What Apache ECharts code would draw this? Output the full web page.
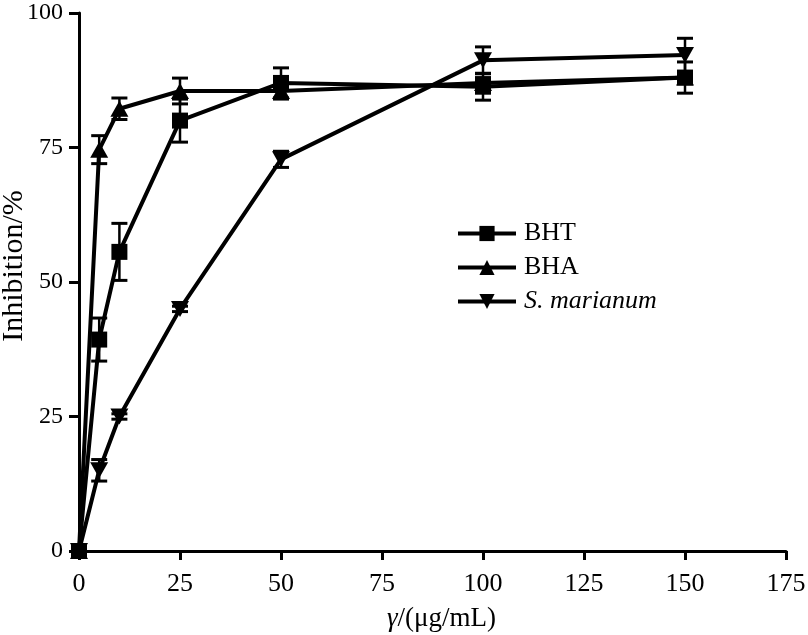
<!DOCTYPE html>
<html>
<head>
<meta charset="utf-8">
<script src="https://cdn.jsdelivr.net/npm/echarts@6/dist/echarts.min.js"></script>
<style>html,body{margin:0;padding:0;background:#fff;}#c{width:808px;height:635px;}</style>
</head>
<body>
<div id="c"></div>
<script>
const concentrations = [0, 5, 10, 25, 50, 100, 150];
const bhtValues = [0, 39.3, 55.6, 80.0, 87.0, 86.3, 88.0];
const bhtErrors = [0, 4.0, 5.3, 4.0, 2.8, 2.5, 2.9];
const bhaValues = [0, 74.6, 82.2, 85.5, 85.5, 87.0, 88.0];
const bhaErrors = [0, 2.6, 2.0, 2.4, 1.5, 1.0, 1.0];
const smValues = [0, 15.0, 25.0, 45.0, 72.8, 91.2, 92.2];
const smErrors = [0, 2.0, 0.5, 0.5, 1.5, 2.5, 3.1];
const seriesNames = ['BHT', 'BHA', 'S. marianum'];
const xTicks = [0, 25, 50, 75, 100, 125, 150, 175];
const yTicks = [0, 25, 50, 75, 100];

const FONT = "'Liberation Serif', 'Times New Roman', serif";

function pairs(vals) { return concentrations.map((x, i) => [x, vals[i]]); }
function triples(vals, errs) { return concentrations.map((x, i) => [x, vals[i], errs[i]]); }

function renderErr(params, api) {
  const x = api.value(0), y = api.value(1), e = api.value(2);
  if (!e) return null;
  const hi = api.coord([x, y + e]);
  const lo = api.coord([x, y - e]);
  const w = 8;
  const st = { stroke: '#000', lineWidth: 2.5 };
  const cs = { stroke: '#000', lineWidth: 3 };
  return {
    type: 'group',
    children: [
      { type: 'line', shape: { x1: hi[0], y1: hi[1], x2: lo[0], y2: lo[1] }, style: st },
      { type: 'line', shape: { x1: hi[0] - w, y1: hi[1], x2: hi[0] + w, y2: hi[1] }, style: cs },
      { type: 'line', shape: { x1: lo[0] - w, y1: lo[1], x2: lo[0] + w, y2: lo[1] }, style: cs }
    ]
  };
}

const chart = echarts.init(document.getElementById('c'), null, { renderer: 'canvas' });

const lineBase = {
  type: 'line',
  lineStyle: { color: '#000', width: 4 },
  itemStyle: { color: '#000' },
  emphasis: { disabled: true },
  animation: false,
  z: 3
};

chart.setOption({
  animation: false,
  backgroundColor: '#fff',
  grid: { left: 79, right: 22, top: 13, bottom: 84, containLabel: false, outerBoundsMode: 'none' },
  legend: {
    data: seriesNames,
    orient: 'vertical',
    left: 451,
    top: 215,
    itemWidth: 58,
    itemHeight: 19,
    itemGap: 7,
    lineStyle: { width: 4, color: '#000' },
    textStyle: {
      fontFamily: FONT, fontSize: 26, color: '#000', lineHeight: 27,
      padding: [0, 0, 0, 3],
      rich: { i: { fontFamily: FONT, fontSize: 26, fontStyle: 'italic', color: '#000' } }
    },
    formatter: function (name) { return name === 'S. marianum' ? '{i|S. marianum}' : name; }
  },
  xAxis: {
    type: 'value',
    min: 0, max: 175, interval: 25,
    splitLine: { show: false },
    axisLine: { lineStyle: { color: '#000', width: 3 } },
    axisTick: { show: true, length: 9, lineStyle: { color: '#000', width: 3 } },
    axisLabel: {
      fontFamily: FONT, fontSize: 26, color: '#000', margin: 20,
      formatter: v => (xTicks.indexOf(v) >= 0 ? String(v) : '')
    },
    name: '{i|γ}/(μg/mL)',
    nameLocation: 'middle',
    nameGap: 54,
    nameMoveOverlap: false,
    nameTextStyle: {
      fontFamily: FONT, fontSize: 27, color: '#000',
      padding: [0, 0, 0, 18],
      rich: { i: { fontFamily: FONT, fontSize: 27, fontStyle: 'italic', color: '#000' } }
    }
  },
  yAxis: {
    type: 'value',
    min: 0, max: 100, interval: 25,
    splitLine: { show: false },
    axisLine: { show: true, lineStyle: { color: '#000', width: 3 } },
    axisTick: { show: true, length: 10, lineStyle: { color: '#000', width: 3 } },
    axisLabel: {
      fontFamily: FONT, fontSize: 24, color: '#000', margin: 16,
      formatter: v => (yTicks.indexOf(v) >= 0 ? String(v) : '')
    },
    name: 'Inhibition/%',
    nameLocation: 'middle',
    nameGap: 50,
    nameRotate: 90,
    nameMoveOverlap: false,
    nameTextStyle: {
      fontFamily: FONT, fontSize: 30, color: '#000',
      padding: [0, 0, 0, 32]
    }
  },
  series: [
    Object.assign({}, lineBase, {
      name: 'BHT', data: pairs(bhtValues), symbol: 'rect', symbolSize: 16
    }),
    Object.assign({}, lineBase, {
      name: 'BHA', data: pairs(bhaValues), symbol: 'triangle', symbolSize: [18, 16]
    }),
    Object.assign({}, lineBase, {
      name: 'S. marianum', data: pairs(smValues), symbol: 'triangle', symbolRotate: 180, symbolSize: [18, 16]
    }),
    { type: 'custom', name: 'BHT err', renderItem: renderErr, data: triples(bhtValues, bhtErrors), z: 4, silent: true },
    { type: 'custom', name: 'BHA err', renderItem: renderErr, data: triples(bhaValues, bhaErrors), z: 4, silent: true },
    { type: 'custom', name: 'SM err', renderItem: renderErr, data: triples(smValues, smErrors), z: 4, silent: true }
  ]
});
</script>
</body>
</html>
